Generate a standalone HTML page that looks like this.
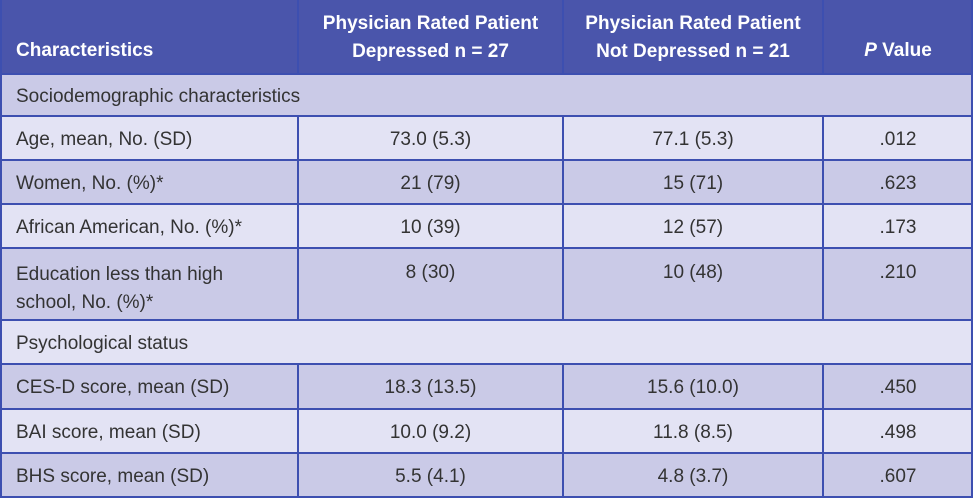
<!DOCTYPE html>
<html><head><meta charset="utf-8"><style>
body{margin:0;width:974px;height:499px;overflow:hidden;background:#fff;font-family:"Liberation Sans",sans-serif;}
#t{position:absolute;left:0;top:0;width:973px;height:498px;}
.r{position:absolute;left:0;width:972px;border-bottom:2px solid #3d4fb0;box-sizing:border-box;}
.c{position:absolute;top:0;bottom:0;font-size:19px;color:#333;line-height:24px;box-sizing:border-box;}
.d{background:#cacae7}.l{background:#e3e3f4}
.h{background:#4a55ab;color:#fff;font-weight:bold;}
.vl{position:absolute;top:0;bottom:0;width:2px;background:#3d4fb0}
.r .c{padding-top:2px}
</style></head><body>
<div id="t">
<div class="r h" style="top:0;height:75px">
 <div class="c" style="left:16px;top:37px;color:#fff">Characteristics</div>
 <div class="c" style="left:298px;width:265px;text-align:center;top:8px;line-height:28px;color:#fff">Physician Rated Patient<br>Depressed n = 27</div>
 <div class="c" style="left:563px;width:260px;text-align:center;top:8px;line-height:28px;color:#fff">Physician Rated Patient<br>Not Depressed n = 21</div>
 <div class="c" style="left:823px;width:150px;text-align:center;top:37px;color:#fff"><i>P</i> Value</div>
 <div class="vl" style="left:297px"></div><div class="vl" style="left:562px"></div><div class="vl" style="left:822px"></div>
</div>
<div class="r d" style="top:75px;height:42px">
 <div class="c" style="left:16px;top:8px">Sociodemographic characteristics</div>
</div>
<div class="r l" style="top:117px;height:44px">
 <div class="c" style="left:16px;top:9px">Age, mean, No. (SD)</div>
 <div class="c" style="left:298px;width:265px;text-align:center;top:9px">73.0 (5.3)</div>
 <div class="c" style="left:563px;width:260px;text-align:center;top:9px">77.1 (5.3)</div>
 <div class="c" style="left:823px;width:150px;text-align:center;top:9px">.012</div>
 <div class="vl" style="left:297px"></div><div class="vl" style="left:562px"></div><div class="vl" style="left:822px"></div>
</div>
<div class="r d" style="top:161px;height:44px">
 <div class="c" style="left:16px;top:9px">Women, No. (%)*</div>
 <div class="c" style="left:298px;width:265px;text-align:center;top:9px">21 (79)</div>
 <div class="c" style="left:563px;width:260px;text-align:center;top:9px">15 (71)</div>
 <div class="c" style="left:823px;width:150px;text-align:center;top:9px">.623</div>
 <div class="vl" style="left:297px"></div><div class="vl" style="left:562px"></div><div class="vl" style="left:822px"></div>
</div>
<div class="r l" style="top:205px;height:44px">
 <div class="c" style="left:16px;top:9px">African American, No. (%)*</div>
 <div class="c" style="left:298px;width:265px;text-align:center;top:9px">10 (39)</div>
 <div class="c" style="left:563px;width:260px;text-align:center;top:9px">12 (57)</div>
 <div class="c" style="left:823px;width:150px;text-align:center;top:9px">.173</div>
 <div class="vl" style="left:297px"></div><div class="vl" style="left:562px"></div><div class="vl" style="left:822px"></div>
</div>
<div class="r d" style="top:249px;height:72px">
 <div class="c" style="left:16px;top:10px;line-height:28px">Education less than high<br>school, No. (%)*</div>
 <div class="c" style="left:298px;width:265px;text-align:center;top:10px">8 (30)</div>
 <div class="c" style="left:563px;width:260px;text-align:center;top:10px">10 (48)</div>
 <div class="c" style="left:823px;width:150px;text-align:center;top:10px">.210</div>
 <div class="vl" style="left:297px"></div><div class="vl" style="left:562px"></div><div class="vl" style="left:822px"></div>
</div>
<div class="r l" style="top:321px;height:44px">
 <div class="c" style="left:16px;top:9px">Psychological status</div>
</div>
<div class="r d" style="top:365px;height:45px">
 <div class="c" style="left:16px;top:9px">CES-D score, mean (SD)</div>
 <div class="c" style="left:298px;width:265px;text-align:center;top:9px">18.3 (13.5)</div>
 <div class="c" style="left:563px;width:260px;text-align:center;top:9px">15.6 (10.0)</div>
 <div class="c" style="left:823px;width:150px;text-align:center;top:9px">.450</div>
 <div class="vl" style="left:297px"></div><div class="vl" style="left:562px"></div><div class="vl" style="left:822px"></div>
</div>
<div class="r l" style="top:410px;height:44px">
 <div class="c" style="left:16px;top:9px">BAI score, mean (SD)</div>
 <div class="c" style="left:298px;width:265px;text-align:center;top:9px">10.0 (9.2)</div>
 <div class="c" style="left:563px;width:260px;text-align:center;top:9px">11.8 (8.5)</div>
 <div class="c" style="left:823px;width:150px;text-align:center;top:9px">.498</div>
 <div class="vl" style="left:297px"></div><div class="vl" style="left:562px"></div><div class="vl" style="left:822px"></div>
</div>
<div class="r d" style="top:454px;height:44px">
 <div class="c" style="left:16px;top:9px">BHS score, mean (SD)</div>
 <div class="c" style="left:298px;width:265px;text-align:center;top:9px">5.5 (4.1)</div>
 <div class="c" style="left:563px;width:260px;text-align:center;top:9px">4.8 (3.7)</div>
 <div class="c" style="left:823px;width:150px;text-align:center;top:9px">.607</div>
 <div class="vl" style="left:297px"></div><div class="vl" style="left:562px"></div><div class="vl" style="left:822px"></div>
</div>
<div style="position:absolute;left:0;top:0;width:2px;height:498px;background:#3d4fb0"></div>
<div style="position:absolute;left:971px;top:0;width:2px;height:498px;background:#3d4fb0"></div>
</div>
</body></html>
